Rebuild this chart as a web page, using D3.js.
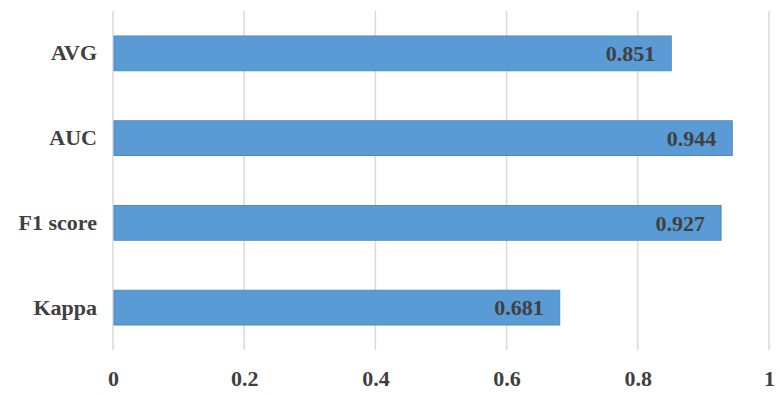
<!DOCTYPE html>
<html><head><meta charset="utf-8">
<script src="https://cdn.jsdelivr.net/npm/d3@7"></script>
<style>body{margin:0;background:#fff}svg{display:block}
svg text{font-family:"Liberation Serif","Times New Roman","DejaVu Serif",serif !important;font-weight:bold}</style>
</head><body>
<svg id="c" width="780" height="395"></svg>
<script>
const categories = ["AVG", "AUC", "F1 score", "Kappa"];
const values = [0.851, 0.944, 0.927, 0.681];
const tickValues = [0, 0.2, 0.4, 0.6, 0.8, 1];
const tickLabels = ["0", "0.2", "0.4", "0.6", "0.8", "1"];

const svg = d3.select("#c");
const m = {top: 11, right: 11, bottom: 45, left: 113};
const W = 780, H = 395;
const x = d3.scaleLinear().domain([0, 1]).range([m.left, W - m.right]);
const y = d3.scaleBand().domain(categories).range([m.top, H - m.bottom]).paddingInner(0.59).paddingOuter(0.295);

svg.append("g").selectAll("line").data(tickValues).join("line")
  .attr("x1", d => x(d)).attr("x2", d => x(d))
  .attr("y1", m.top).attr("y2", H - m.bottom)
  .attr("stroke", "#d9d9d9").attr("stroke-width", 1.5);

svg.append("g").selectAll("rect").data(values).join("rect")
  .attr("x", x(0) + 1).attr("y", (d, i) => y(categories[i]))
  .attr("width", d => x(d) - x(0) - 1).attr("height", y.bandwidth())
  .attr("fill", "#5b9bd5").attr("stroke", "#4f8ac4").attr("stroke-width", 1);

svg.append("g").selectAll("text").data(values).join("text")
  .attr("x", d => x(d) - 16).attr("y", (d, i) => y(categories[i]) + y.bandwidth() / 2)
  .attr("dy", "0.35em").attr("text-anchor", "end")
  .attr("font-size", 22)
  .attr("fill", "#404040").text(d => d.toFixed(3));

const yAxis = d3.axisLeft(y).tickSize(0).tickPadding(16);
svg.append("g").attr("transform", `translate(${m.left},0)`).call(yAxis)
  .call(g => g.select(".domain").remove())
  .selectAll("text").attr("font-size", 22).attr("fill", "#404040");

const xAxis = d3.axisBottom(x).tickValues(tickValues).tickSize(0).tickPadding(20)
  .tickFormat((d, i) => tickLabels[i]);
svg.append("g").attr("transform", `translate(0,${H - m.bottom})`).call(xAxis)
  .call(g => g.select(".domain").remove())
  .selectAll("text").attr("font-size", 22).attr("fill", "#404040");
</script>
</body></html>
